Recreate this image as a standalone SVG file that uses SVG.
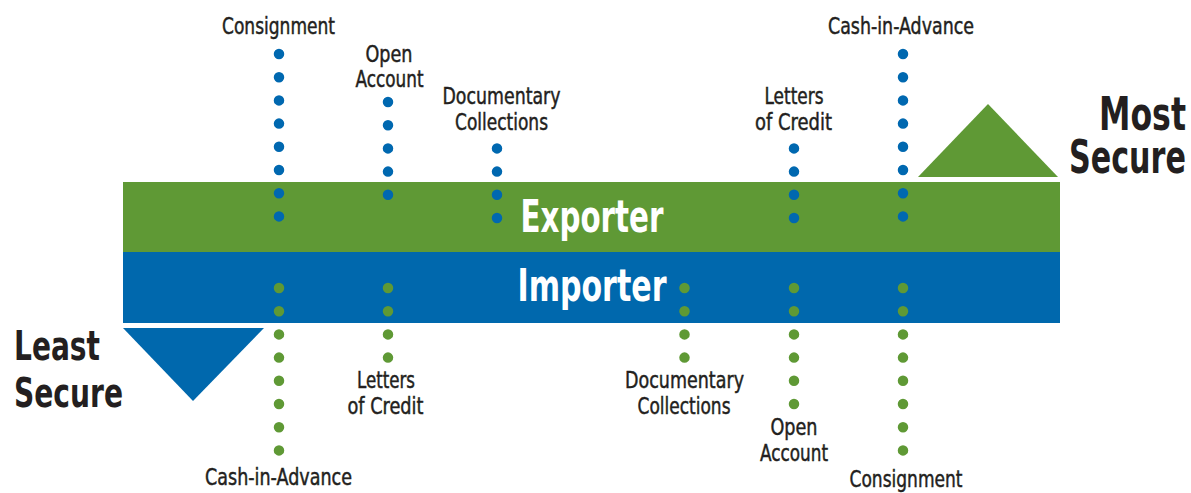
<svg xmlns="http://www.w3.org/2000/svg" width="1191" height="493" viewBox="0 0 1191 493">
<style>
.lbl{font-family:"Liberation Sans Narrow","DejaVu Sans Condensed","Liberation Sans",sans-serif;font-size:23px;fill:#231f20;stroke:#231f20;stroke-width:0.45;text-anchor:middle}
.band{font-family:"Liberation Sans Narrow","DejaVu Sans Condensed","Liberation Sans",sans-serif;font-weight:bold;font-size:45px;fill:#ffffff;text-anchor:middle}
.sec{font-family:"Liberation Sans Narrow","DejaVu Sans Condensed","Liberation Sans",sans-serif;font-weight:bold;fill:#231f20}
.dt{stroke-width:10.5;stroke-linecap:round;stroke-dasharray:0 23.2;fill:none}
.db{stroke:#0068b0}
.dg{stroke:#5f9935}
</style>
<rect width="1191" height="493" fill="#ffffff"/>
<g id="exporter-band">
<rect x="123" y="182" width="937" height="70" fill="#5f9935"/>
<text class="band" x="592" y="232" textLength="143" lengthAdjust="spacingAndGlyphs">Exporter</text>
</g>
<g id="importer-band">
<rect x="123" y="252" width="937" height="71" fill="#0068ad"/>
<text class="band" x="592" y="301" textLength="149" lengthAdjust="spacingAndGlyphs">Importer</text>
</g>
<g id="most-secure">
<polygon points="918,177 1058,177 988,104" fill="#5f9935"/>
<text class="sec" font-size="46" x="1186" y="130" text-anchor="end" textLength="87" lengthAdjust="spacingAndGlyphs">Most</text>
<text class="sec" font-size="46" x="1186" y="173" text-anchor="end" textLength="117" lengthAdjust="spacingAndGlyphs">Secure</text>
</g>
<g id="least-secure">
<polygon points="123,328 264,328 193,401" fill="#0068ad"/>
<text class="sec" font-size="41" x="14" y="360" textLength="86" lengthAdjust="spacingAndGlyphs">Least</text>
<text class="sec" font-size="41" x="14" y="407" textLength="109" lengthAdjust="spacingAndGlyphs">Secure</text>
</g>
<g id="connectors">
<line class="dt db" x1="279" y1="54" x2="279" y2="217"/>
<line class="dt db" x1="388" y1="102" x2="388" y2="218"/>
<line class="dt db" x1="497" y1="148.4" x2="497" y2="218"/>
<line class="dt db" x1="794" y1="148.4" x2="794" y2="218"/>
<line class="dt db" x1="903" y1="54" x2="903" y2="217"/>
<line class="dt dg" x1="279" y1="288" x2="279" y2="451"/>
<line class="dt dg" x1="388" y1="288" x2="388" y2="358"/>
<line class="dt dg" x1="684.5" y1="288" x2="684.5" y2="358"/>
<line class="dt dg" x1="794" y1="288" x2="794" y2="404.5"/>
<line class="dt dg" x1="903" y1="288" x2="903" y2="451"/>
</g>
<g id="exp-consignment"><text class="lbl" x="278.5" y="34" textLength="113" lengthAdjust="spacingAndGlyphs">Consignment</text></g>
<g id="exp-open-account"><text class="lbl" x="389" y="61.5" textLength="47" lengthAdjust="spacingAndGlyphs">Open</text><text class="lbl" x="389.5" y="87" textLength="68" lengthAdjust="spacingAndGlyphs">Account</text></g>
<g id="exp-documentary-collections"><text class="lbl" x="501.5" y="103.5" textLength="118" lengthAdjust="spacingAndGlyphs">Documentary</text><text class="lbl" x="501.5" y="129.5" textLength="93" lengthAdjust="spacingAndGlyphs">Collections</text></g>
<g id="exp-letters-of-credit"><text class="lbl" x="794" y="103.5" textLength="59" lengthAdjust="spacingAndGlyphs">Letters</text><text class="lbl" x="793.5" y="129.5" textLength="77" lengthAdjust="spacingAndGlyphs">of Credit</text></g>
<g id="exp-cash-in-advance"><text class="lbl" x="901" y="34" textLength="146" lengthAdjust="spacingAndGlyphs">Cash-in-Advance</text></g>
<g id="imp-cash-in-advance"><text class="lbl" x="278.5" y="485" textLength="147" lengthAdjust="spacingAndGlyphs">Cash-in-Advance</text></g>
<g id="imp-letters-of-credit"><text class="lbl" x="386" y="388" textLength="58" lengthAdjust="spacingAndGlyphs">Letters</text><text class="lbl" x="385.5" y="413.5" textLength="76" lengthAdjust="spacingAndGlyphs">of Credit</text></g>
<g id="imp-documentary-collections"><text class="lbl" x="684.5" y="388" textLength="119" lengthAdjust="spacingAndGlyphs">Documentary</text><text class="lbl" x="684" y="413.5" textLength="93" lengthAdjust="spacingAndGlyphs">Collections</text></g>
<g id="imp-open-account"><text class="lbl" x="794" y="434.5" textLength="47" lengthAdjust="spacingAndGlyphs">Open</text><text class="lbl" x="794" y="461" textLength="68" lengthAdjust="spacingAndGlyphs">Account</text></g>
<g id="imp-consignment"><text class="lbl" x="906" y="486.5" textLength="113" lengthAdjust="spacingAndGlyphs">Consignment</text></g>
</svg>
